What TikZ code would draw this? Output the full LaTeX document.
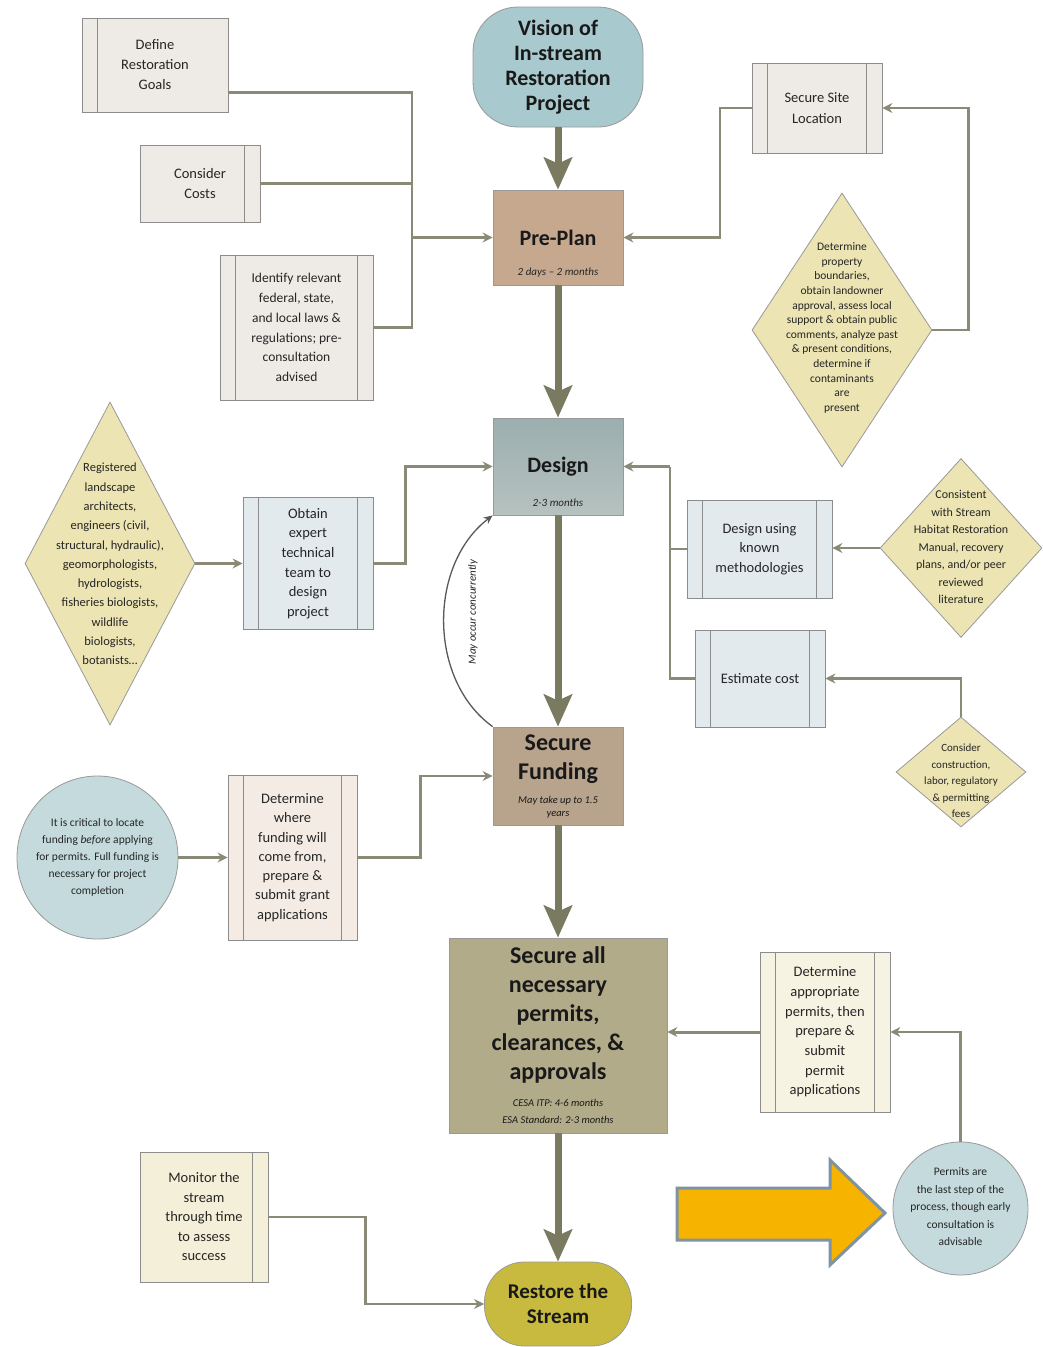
\documentclass[tikz,border=0pt]{standalone}
\usepackage{fontspec}
\setmainfont{Carlito}
\usetikzlibrary{arrows.meta, positioning, shapes.geometric}

\definecolor{linkcol}{HTML}{8A8A76}
\definecolor{maincol}{HTML}{7A7A60}
\definecolor{viscol}{HTML}{A8C9CD}
\definecolor{precol}{HTML}{C6A88F}
\definecolor{destop}{HTML}{9CAEAE}
\definecolor{desbot}{HTML}{B6C2C0}
\definecolor{fundcol}{HTML}{B8A38D}
\definecolor{permcol}{HTML}{B1AB89}
\definecolor{restcol}{HTML}{C8BA3E}
\definecolor{dmdcol}{HTML}{ECE4B2}
\definecolor{bubcol}{HTML}{C4DADD}
\definecolor{graybox}{HTML}{EEEBE6}
\definecolor{bluebox}{HTML}{E3EAED}
\definecolor{pinkbox}{HTML}{F4ECE4}
\definecolor{creambox}{HTML}{F6F3E2}
\definecolor{yellowbox}{HTML}{F4EFD8}
\definecolor{hintfill}{HTML}{F6B400}
\definecolor{hintline}{HTML}{7E94A4}

\newcommand{\subline}[1]{{\normalfont\itshape\fontsize{10.5}{13}\selectfont #1}}

\begin{document}
\begin{tikzpicture}[x=1pt, y=-1pt,
    proc/.style={draw=black!45, line width=0.8pt, align=center, inner sep=2pt, text=black!85, font=\fontsize{14.5}{20}\selectfont},
    stripe/.style={draw=black!45, line width=0.8pt},
    lstripe/.style={path picture={\draw[stripe] ([xshift=15pt]path picture bounding box.north west) -- ([xshift=15pt]path picture bounding box.south west);}},
    rstripe/.style={path picture={\draw[stripe] ([xshift=-16pt]path picture bounding box.north east) -- ([xshift=-16pt]path picture bounding box.south east);}},
    bstripe/.style={path picture={\draw[stripe] ([xshift=15pt]path picture bounding box.north west) -- ([xshift=15pt]path picture bounding box.south west);
        \draw[stripe] ([xshift=-16pt]path picture bounding box.north east) -- ([xshift=-16pt]path picture bounding box.south east);}},
    dmd/.style={diamond, draw=black!40, fill=dmdcol, line width=0.8pt, inner sep=0pt},
    bubble/.style={ellipse, draw=black!40, fill=bubcol, line width=0.8pt, inner sep=0pt},
    note/.style={align=center, text=black!85},
    stage/.style={draw=black!40, line width=0.8pt, align=center, text=black!90},
    sub/.style={text=black!85, font=\fontsize{11}{13}\selectfont\itshape},
    link/.style={draw=linkcol, line width=2.2pt},
    arr/.style={link, -{Stealth[length=10pt, width=10pt]}},
    main/.style={draw=maincol, line width=7pt, -{Stealth[length=32pt, width=28pt, inset=6pt]}}]

            \fill[white] (0,0) rectangle (1042,1347);
            \useasboundingbox (0,0) rectangle (1042,1347);

            \node[stage, rounded corners=45pt, fill=viscol, minimum width=170pt, minimum height=120pt, font=\bfseries\fontsize{22}{25}\selectfont] (vision) at (558,67) {Vision of\\In-stream\\Restoration\\Project};
            \node[stage, fill=precol, minimum width=130pt, minimum height=95pt, font=\bfseries\fontsize{22}{26}\selectfont] (pre) at (558,237.5) {Pre-Plan};
            \node[sub, above=5pt of pre.south] (presub) {2 days -- 2 months};
            \node[stage, top color=destop, bottom color=desbot, minimum width=130pt, minimum height=97pt, font=\bfseries\fontsize{22}{26}\selectfont] (des) at (558,466.5) {Design};
            \node[sub, above=5pt of des.south] (dessub) {2-3 months};
            \node[stage, fill=fundcol, minimum width=130pt, minimum height=98pt, font=\bfseries\fontsize{24}{29}\selectfont] (fund) at (558,776) {Secure\\Funding\\[-5pt]\subline{May take up to 1.5}\\[-16pt]\subline{years}};
            \node[stage, fill=permcol, minimum width=218pt, minimum height=195pt, font=\bfseries\fontsize{24}{29}\selectfont] (permits) at (558,1035.5) {Secure all\\necessary\\permits,\\clearances, \&\\approvals\\[-2pt]\subline{CESA ITP: 4-6 months}\\[-12pt]\subline{ESA Standard: 2-3 months}};
            \node[stage, rounded corners=40pt, fill=restcol, minimum width=147pt, minimum height=84pt, font=\bfseries\fontsize{21}{25}\selectfont] (rest) at (558,1304) {Restore the\\Stream};

            \draw[main] (vision.south) -- (pre.north);
            \draw[main] (pre.south) -- (des.north);
            \draw[main] (des.south) -- (fund.north);
            \draw[main] (fund.south) -- (permits.north);
            \draw[main] (permits.south) -- (rest.north);

            \node[proc, lstripe, fill=graybox, minimum width=146pt, minimum height=94pt] (goals) at (155,65) {Define\\Restoration\\Goals};
            \node[proc, rstripe, fill=graybox, minimum width=120pt, minimum height=77pt] (costs) at (200,183.5) {Consider\\Costs};
            \node[proc, bstripe, fill=graybox, minimum width=153pt, minimum height=145pt, font=\fontsize{13.5}{19.8}\selectfont] (laws) at (296.5,327.5) {Identify relevant\\federal, state,\\and local laws \&\\regulations; pre-\\consultation\\advised};
            \coordinate (jl) at (412,237.5);
            \draw[link] ([yshift=20pt]goals.south east) -| (jl);
            \draw[link] (costs.east) -- (costs.east -| jl);
            \draw[link] (laws.east) -| (jl);
            \draw[arr] (jl) -- (pre.west);

            \node[proc, bstripe, fill=graybox, minimum width=130pt, minimum height=90pt, font=\fontsize{14.5}{21}\selectfont] (site) at (817,108) {Secure Site\\Location};
            \node[dmd, minimum width=180pt, minimum height=274pt] (bnd) at (842,330) {};
            \node[note, font=\fontsize{11.5}{14.6}\selectfont] (bndtxt) at (842,328) {Determine\\property\\boundaries,\\obtain landowner\\approval, assess local\\support \& obtain public\\comments, analyze past\\\& present conditions,\\determine if\\contaminants\\are\\present};
            \draw[arr] (site.west) -- ++(-32,0) |- (pre.east);
            \draw[arr] (bnd.east) -- ++(36,0) |- (site.east);

            \node[dmd, minimum width=170pt, minimum height=323pt] (experts) at (110,563.5) {};
            \node[note, font=\fontsize{12.5}{19.3}\selectfont] (expertstxt) at (110,564) {Registered\\landscape\\architects,\\engineers (civil,\\structural, hydraulic),\\geomorphologists,\\hydrologists,\\fisheries biologists,\\wildlife\\biologists,\\botanists\dots};
            \node[proc, bstripe, fill=bluebox, minimum width=130pt, minimum height=132pt, font=\fontsize{14.5}{19.6}\selectfont] (team) at (308,563.5) {Obtain\\expert\\technical\\team to\\design\\project};
            \draw[arr] (experts.east) -- (team.west);
            \draw[arr] (team.east) -- ++(32,0) |- (des.west);

            \node[proc, bstripe, fill=bluebox, minimum width=145pt, minimum height=98pt, font=\fontsize{14.5}{19.5}\selectfont] (known) at (759.5,549) {Design using\\known\\methodologies};
            \node[dmd, minimum width=162pt, minimum height=179pt] (manual) at (961,548) {};
            \node[note, font=\fontsize{12}{17.5}\selectfont] (manualtxt) at (961,547) {Consistent\\with Stream\\Habitat Restoration\\Manual, recovery\\plans, and/or peer\\reviewed\\literature};
            \node[proc, bstripe, fill=bluebox, minimum width=130pt, minimum height=97pt] (est) at (760,678.5) {Estimate cost};
            \node[dmd, minimum width=130pt, minimum height=110pt] (fees) at (961,772) {};
            \node[note, font=\fontsize{11}{16.5}\selectfont] (feestxt) at (961,781) {Consider\\construction,\\labor, regulatory\\\& permitting\\fees};
            \coordinate (jr) at (670,466.5);
            \draw[link] (known.west) -| (jr);
            \draw[link] (est.west) -| (jr);
            \draw[arr] (jr) -- (des.east);
            \draw[arr] (manual.west) -- (manual.west -| known.east);
            \draw[arr] (fees.north) |- (est.east);

            \draw[draw=black!65, line width=1.3pt, -{Stealth[length=9pt, width=8pt]}] (fund.north west) .. controls (428,680) and (428,565) .. (des.south west);
            \node[rotate=90, text=black!85, font=\fontsize{11}{13}\selectfont\itshape] (conc) at (473,612) {May occur concurrently};

            \node[bubble, minimum width=161pt, minimum height=163pt] (crit) at (97.5,857.5) {};
            \node[note, font=\fontsize{11.5}{17}\selectfont] (crittxt) at (97.5,857) {It is critical to locate\\funding \emph{before} applying\\for permits. Full funding is\\necessary for project\\completion};
            \node[proc, bstripe, fill=pinkbox, minimum width=129pt, minimum height=165pt, font=\fontsize{14.5}{19.3}\selectfont] (where) at (292.5,857.5) {Determine\\where\\funding will\\come from,\\prepare \&\\submit grant\\applications};
            \draw[arr] (crit.east) -- (where.west);
            \draw[arr] (where.east) -- ++(63,0) |- (fund.west);

            \node[proc, bstripe, fill=creambox, minimum width=130pt, minimum height=160pt, font=\fontsize{14.5}{19.7}\selectfont] (permbox) at (825,1032) {Determine\\appropriate\\permits, then\\prepare \&\\submit\\permit\\applications};
            \node[bubble, minimum width=135pt, minimum height=133pt] (last) at (960.5,1208.5) {};
            \node[note, font=\fontsize{11.5}{17.5}\selectfont] (lasttxt) at (960.5,1207) {Permits are\\the last step of the\\process, though early\\consultation is\\advisable};
            \draw[arr, line width=3pt] (permbox.west) -- (permbox.west -| permits.east);
            \draw[arr] (last.north) |- (permbox.east);

            \draw[draw=hintline, fill=hintfill, line width=3pt, line join=miter] (677,1188) -- (830,1188) -- (830,1160) -- (885,1213) -- (830,1265) -- (830,1240) -- (677,1240) -- cycle;

            \node[proc, rstripe, fill=yellowbox, minimum width=128pt, minimum height=130pt, font=\fontsize{14.5}{19.5}\selectfont] (mon) at (204,1217) {Monitor the\\stream\\through time\\to assess\\success};
            \draw[arr] (mon.east) -- ++(97,0) |- (rest.west);
\end{tikzpicture}
\end{document}
